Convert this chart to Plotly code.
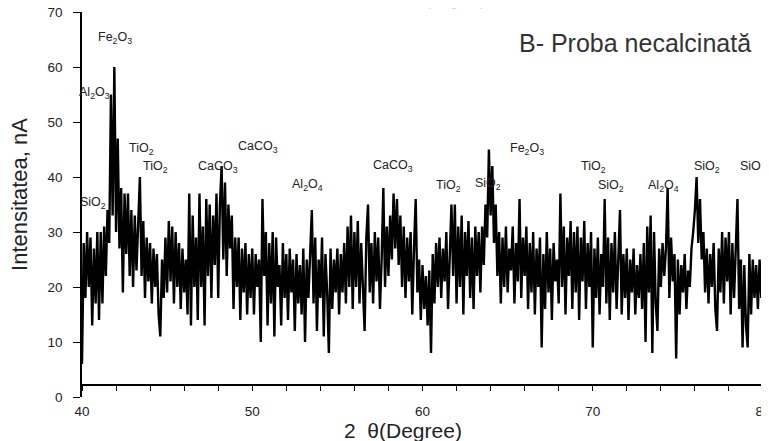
import numpy as np
import plotly.graph_objects as go

# 2-theta grid (degrees), 0.1 step from 40 to 80
two_theta = np.round(np.arange(400, 801) / 10.0, 1)

# intensity, one row per degree
intensity = [
    6, 28, 18, 30, 20, 29, 13, 27, 17, 30,          # 40
    14, 30, 17, 31, 22, 34, 28, 55, 33, 60,         # 41
    30, 47, 27, 38, 19, 37, 26, 37, 22, 34,         # 42
    20, 33, 23, 31, 40, 22, 32, 18, 29, 21,         # 43
    28, 17, 27, 20, 26, 15, 11, 25, 18, 29,         # 44
    19, 32, 21, 31, 17, 30, 20, 28, 16, 27,         # 45
    19, 25, 15, 37, 13, 33, 20, 29, 14, 37,         # 46
    20, 31, 13, 36, 22, 35, 18, 33, 24, 37,         # 47
    18, 35, 42, 25, 39, 22, 35, 27, 33, 16,         # 48
    29, 20, 29, 14, 27, 19, 28, 15, 26, 18,         # 49
    27, 15, 26, 20, 25, 10, 36, 22, 30, 13,         # 50
    28, 17, 30, 11, 29, 20, 24, 13, 28, 18,         # 51
    26, 14, 27, 19, 25, 12, 26, 17, 24, 15,         # 52
    27, 10, 25, 18, 26, 34, 17, 29, 12, 25,         # 53
    18, 29, 11, 26, 19, 8, 27, 16, 25, 19,          # 54
    27, 15, 26, 19, 28, 17, 31, 20, 33, 16,         # 55
    30, 20, 32, 17, 28, 21, 12, 29, 35, 19,         # 56
    28, 17, 30, 21, 29, 16, 25, 38, 20, 31,         # 57
    22, 33, 25, 37, 27, 36, 24, 33, 20, 31,         # 58
    18, 29, 21, 30, 15, 27, 36, 19, 25, 14,         # 59
    24, 16, 22, 13, 23, 8, 26, 17, 28, 20,          # 60
    29, 18, 27, 21, 30, 16, 28, 35, 22, 35,         # 61
    17, 31, 20, 33, 15, 30, 22, 32, 18, 29,         # 62
    16, 31, 22, 30, 19, 31, 24, 35, 29, 45,         # 63
    33, 42, 28, 35, 22, 30, 17, 29, 20, 31,         # 64
    19, 27, 23, 31, 17, 28, 21, 36, 18, 29,         # 65
    22, 31, 16, 28, 19, 30, 15, 27, 20, 29,         # 66
    9, 26, 16, 30, 19, 27, 14, 28, 21, 25,          # 67
    17, 37, 20, 31, 15, 29, 22, 32, 16, 30,         # 68
    19, 31, 14, 29, 21, 32, 16, 28, 20, 30,         # 69
    9, 27, 18, 29, 15, 26, 20, 36, 17, 29,          # 70
    14, 28, 19, 30, 16, 27, 34, 15, 26, 18,         # 71
    27, 14, 25, 19, 27, 15, 24, 18, 26, 16,         # 72
    28, 10, 31, 19, 33, 8, 30, 17, 12, 27,          # 73
    20, 28, 22, 27, 38, 18, 29, 21, 26, 7,          # 74
    25, 15, 24, 19, 26, 16, 23, 20, 27, 30,         # 75
    34, 40, 28, 36, 25, 30, 19, 27, 17, 26,         # 76
    20, 28, 16, 12, 27, 19, 30, 17, 29, 21,         # 77
    30, 15, 28, 18, 26, 36, 16, 25, 9, 24,          # 78
    13, 9, 26, 15, 25, 18, 24, 16, 25, 18,          # 79
    22,                                             # 80
]

# phase labels: text, 2-theta position, intensity position
label_text = ["Fe<sub>2</sub>O<sub>3</sub>", "Al<sub>2</sub>O<sub>3</sub>", "SiO<sub>2</sub>",
              "TiO<sub>2</sub>", "TiO<sub>2</sub>", "CaCO<sub>3</sub>", "CaCO<sub>3</sub>",
              "Al<sub>2</sub>O<sub>4</sub>", "CaCO<sub>3</sub>", "TiO<sub>2</sub>", "SiO<sub>2</sub>",
              "Fe<sub>2</sub>O<sub>3</sub>", "TiO<sub>2</sub>", "SiO<sub>2</sub>",
              "Al<sub>2</sub>O<sub>4</sub>", "SiO<sub>2</sub>", "SiO<sub>2</sub>"]
label_x = [41.94, 40.76, 40.65, 43.47, 44.29, 47.99, 50.34, 53.27, 58.27, 61.5, 63.85,
           66.14, 70.07, 71.07, 74.13, 76.71, 79.41]
label_y = [65.3, 55.3, 35.3, 45.1, 41.8, 41.8, 45.5, 38.5, 42.0, 38.4, 38.7,
           45.1, 41.8, 38.4, 38.4, 41.8, 41.8]

x_ticks = [40, 50, 60, 70, 80]
y_ticks = [0, 10, 20, 30, 40, 50, 60, 70]

FONT = "Liberation Sans, Arial, sans-serif"

fig = go.Figure()
fig.add_trace(go.Scatter(x=two_theta, y=intensity, mode="lines",
                         line=dict(color="black", width=2.4), showlegend=False,
                         hoverinfo="skip"))

for t, xx, yy in zip(label_text, label_x, label_y):
    fig.add_annotation(x=xx, y=yy, xref="x", yref="y", text=t, showarrow=False,
                       font=dict(family=FONT, size=12.5, color="#222"))

fig.add_annotation(x=0.986, y=0.919, xref="paper", yref="paper", xanchor="right",
                   yanchor="middle", text="B- Proba necalcinată", showarrow=False,
                   font=dict(family=FONT, size=25, color="#333"))

fig.add_annotation(x=0.533, y=1.03, xref="paper", yref="paper", xanchor="center",
                   yanchor="middle", text="2 θ(Degree)", showarrow=False,
                   font=dict(family=FONT, size=15, color="#d4d4d4"))

# axis titles
fig.add_annotation(x=0.471, y=-0.086, xref="paper", yref="paper", xanchor="center",
                   yanchor="middle", text="2  θ(Degree)", showarrow=False,
                   font=dict(family=FONT, size=21, color="#222"))
fig.add_annotation(x=-0.091, y=0.525, xref="paper", yref="paper", xanchor="center",
                   yanchor="middle", text="Intensitatea, nA", showarrow=False,
                   textangle=-90, font=dict(family=FONT, size=22, color="#222"))

fig.update_layout(
    width=761, height=433,
    margin=dict(l=74, r=6, t=4, b=44, autoexpand=False),
    paper_bgcolor="white", plot_bgcolor="white",
    font=dict(family=FONT, size=13.5, color="#222"),
    xaxis=dict(range=[40, 80], anchor="free", position=0.031, automargin=False,
               showline=True, linecolor="black", linewidth=1.5,
               ticks="outside", ticklen=5, tickwidth=1.2, tickcolor="black",
               tickvals=x_ticks, ticktext=[str(v) for v in x_ticks],
               minor=dict(dtick=2, tick0=40, ticks="outside", ticklen=5,
                          tickwidth=1.2, tickcolor="black"),
               ticklabelstandoff=9, ticklabeloverflow="allow",
               showgrid=False, zeroline=False),
    yaxis=dict(range=[0, 70], showline=True, linecolor="black", linewidth=1.5,
               automargin=False,
               mirror=True, ticks="outside", ticklen=7, tickwidth=1.2,
               tickcolor="black", tickvals=y_ticks,
               ticktext=[str(v) for v in y_ticks], ticklabelstandoff=8,
               ticklabeloverflow="allow",
               showgrid=False, zeroline=False),
)

fig.write_html("out.html")
